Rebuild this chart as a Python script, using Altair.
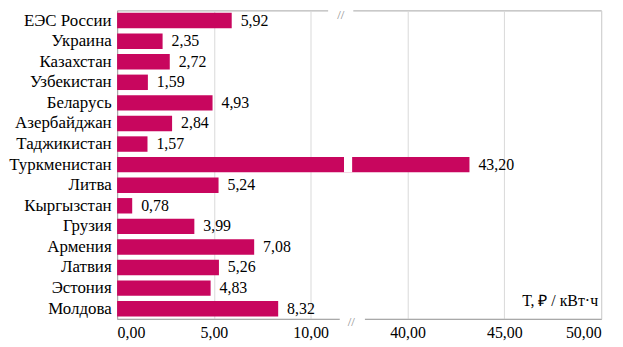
import altair as alt
import pandas as pd

countries = ["ЕЭС России", "Украина", "Казахстан", "Узбекистан", "Беларусь",
             "Азербайджан", "Таджикистан", "Туркменистан", "Литва", "Кыргызстан",
             "Грузия", "Армения", "Латвия", "Эстония", "Молдова"]
values = [5.92, 2.35, 2.72, 1.59, 4.93, 2.84, 1.57, 43.20, 5.24, 0.78,
          3.99, 7.08, 5.26, 4.83, 8.32]
tick_values = [0, 5, 10, 40, 45, 50]
unit_title = "Т, ₽ / кВт·ч"

BREAK_OFFSET = 25  # values above the break are shifted left by this amount
BREAK_AT = 12

def disp(v):
    return v - BREAK_OFFSET if v > BREAK_AT else v

df = pd.DataFrame({
    "country": countries,
    "value": values,
    "disp": [disp(v) for v in values],
    "label": [f"{v:.2f}".replace(".", ",") for v in values],
})

FONT = "Times New Roman"
COLOR = "#C8065E"
W, H = 488, 311

disp_ticks = [disp(t) for t in tick_values]

xscale = alt.Scale(domain=[0, 25], nice=False, zero=True)
yscale = alt.Scale(paddingInner=0.25, paddingOuter=0.12)

base = alt.Chart(df)

bars = base.mark_bar(color=COLOR).encode(
    x=alt.X("disp:Q", scale=xscale,
            axis=alt.Axis(values=disp_ticks, title=None, ticks=False,
                          labelPadding=6, labelFontSize=16, labelFont=FONT,
                          labelColor="#000", gridColor="#d9d9d9",
                          domainColor="#a6a6a6",
                          labelExpr="replace(format(datum.value <= 10 ? datum.value : datum.value + 25, '.2f'), '.', ',')")),
    y=alt.Y("country:N", sort=countries, scale=yscale,
            axis=alt.Axis(title=None, ticks=False, labelPadding=6,
                          labelFontSize=17, labelFont=FONT, labelColor="#000",
                          domainColor="#a6a6a6")),
)

texts = base.mark_text(align="left", dx=9, font=FONT, fontSize=16, color="#000").encode(
    x="disp:Q", y=alt.Y("country:N", sort=countries), text="label:N")

gap_df = pd.DataFrame({"country": ["Туркменистан"], "a": [11.72], "b": [12.14]})
gap = alt.Chart(gap_df).mark_bar(color="white").encode(
    x="a:Q", x2="b:Q", y=alt.Y("country:N", sort=countries))

top_df = pd.DataFrame({"x": [11.55], "a": [10.9], "b": [12.2]})
bot_df = pd.DataFrame({"x": [12.1], "a": [11.5], "b": [12.8]})

top_white = alt.Chart(top_df).mark_rect(color="white").encode(
    x="a:Q", x2="b:Q", y=alt.value(-1), y2=alt.value(2))
bot_white = alt.Chart(bot_df).mark_rect(color="white").encode(
    x="a:Q", x2="b:Q", y=alt.value(H - 3), y2=alt.value(H + 3))
top_text = alt.Chart(top_df).mark_text(text="//", font=FONT, fontSize=13, color="#8c8c8c", baseline="top").encode(
    x="x:Q", y=alt.value(-1))
bot_text = alt.Chart(bot_df).mark_text(text="//", font=FONT, fontSize=13, color="#8c8c8c").encode(
    x="x:Q", y=alt.value(H + 3))

title_df = pd.DataFrame({"x": [25], "t": [unit_title]})
title = alt.Chart(title_df).mark_text(align="right", baseline="alphabetic", dx=-3, font=FONT,
                                      fontSize=16, color="#000").encode(
    x="x:Q", y=alt.value(298), text="t:N")

chart = alt.layer(bars, gap, texts, title, top_white, bot_white, top_text, bot_text).properties(
    width=W, height=H,
    padding={"left": 0, "top": 0, "right": 14, "bottom": 10},
).configure(font=FONT).configure_view(stroke="#a6a6a6", strokeWidth=1)

chart.save("out.html", embed_options={"renderer": "svg", "actions": False})
